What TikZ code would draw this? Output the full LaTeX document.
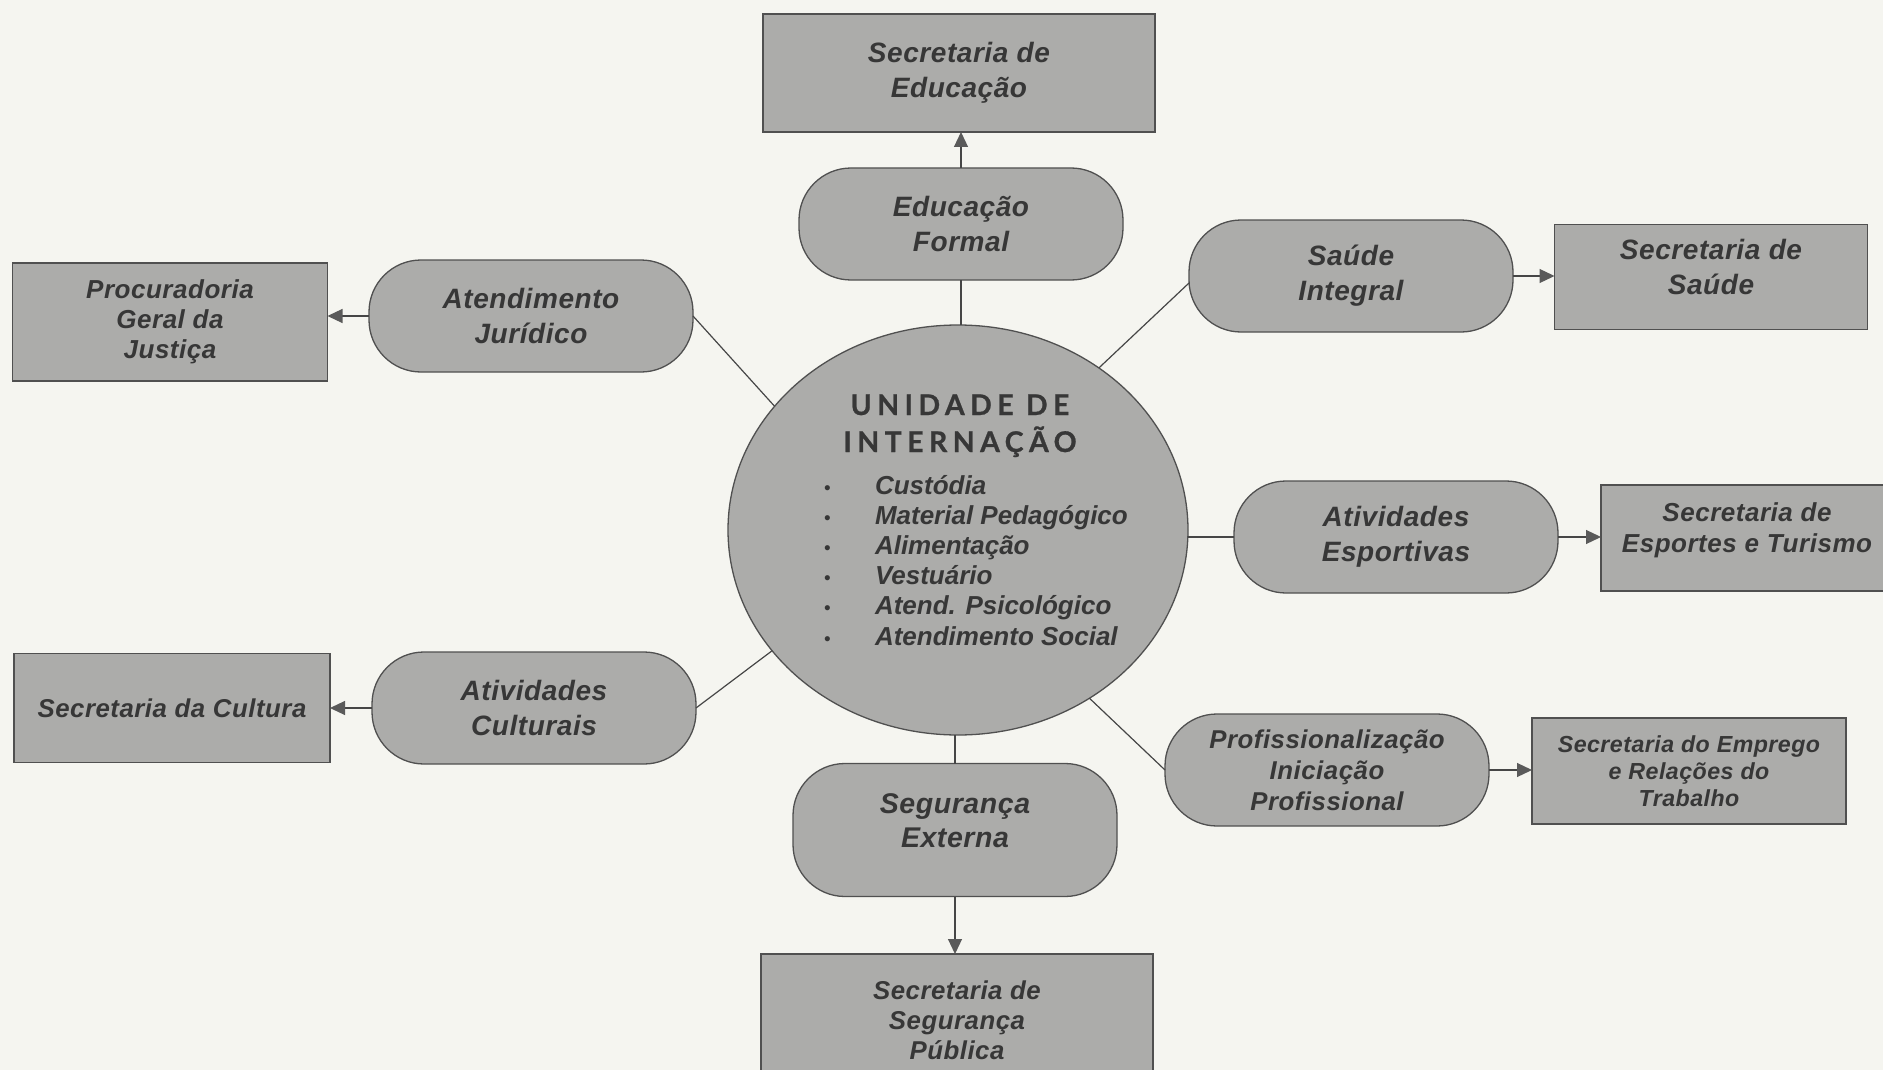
\documentclass[tikz,border=0pt]{standalone}
\usepackage{fontspec}
\setmainfont{Liberation Sans}
\newfontfamily\boxfont[LetterSpace=2]{Liberation Sans}
\newfontfamily\titlefont[LetterSpace=19,FakeBold=0.8]{Lato}
\usetikzlibrary{shapes.geometric,arrows.meta}
\definecolor{bg}{RGB}{245,245,240}
\definecolor{boxfill}{RGB}{172,172,170}
\definecolor{edgec}{RGB}{80,80,80}
\definecolor{txt}{RGB}{55,55,55}
\definecolor{lnk}{RGB}{70,70,70}
\definecolor{tipc}{RGB}{90,90,90}
\newcommand{\bxf}[2]{\boxfont\bfseries\itshape\fontsize{#1}{#2}\selectfont}
\begin{document}
\begin{tikzpicture}[x=1pt,y=-1pt,
  every node/.style={inner sep=0pt,outer sep=0pt},
  secbox/.style={draw=edgec,line width=1.3pt,fill=boxfill,rectangle,align=center,text=txt,
    font=\bxf{28}{35}},
  pill/.style={draw=edgec,line width=1.3pt,fill=boxfill,rectangle,rounded corners=52pt,
    minimum width=324pt,minimum height=112pt,align=center,text=txt,
    font=\bxf{28}{35}},
  item/.style={anchor=base west,text=txt,font=\bfseries\itshape\fontsize{26}{30}\selectfont},
  ttl/.style={anchor=base,text=txt,font=\titlefont\bfseries\fontsize{28.5}{37}\selectfont},
  conn/.style={draw=lnk,line width=1.2pt},
  arr/.style={conn,-{Triangle[length=15pt,width=14pt,color=tipc]}}
]
\useasboundingbox (0,0) rectangle (1883,1070);
\fill[bg] (0,0) rectangle (1883,1070);

% central unit
\node[ellipse,draw=edgec,line width=1.3pt,fill=boxfill,minimum width=460pt,minimum height=410pt] (u) at (958,530) {};
\node[ttl] (t1) at (960,415) {UNIDADE DE};
\node[ttl] (t2) at (960,452) {INTERNAÇÃO};
\foreach \n/\yy/\s in {i1/494/Custódia,i2/524.2/Material Pedagógico,i3/554.4/Alimentação,i4/584.6/Vestuário,i5/614.8/Atend. Psicológico,i6/645/Atendimento Social}{
  \node[item] (\n) at (824,\yy) {\makebox[51pt][l]{\normalfont\fontsize{19}{19}\selectfont\textbullet}\s};
}

% secretariats
\node[secbox,minimum width=392pt,minimum height=118pt] (sece) at (959,73) {Secretaria de\\Educação};
\node[secbox,minimum width=315pt,minimum height=118pt,font=\bxf{26}{30}] (proc) at (170,322) {Procuradoria\\Geral da\\Justiça};
\node[secbox,minimum width=313pt,minimum height=105pt,text depth=20pt] (secs) at (1711,277) {Secretaria de\\Saúde};
\node[secbox,minimum width=292pt,minimum height=106pt,text depth=20pt,font=\bxf{26}{31}] (sesp) at (1747,538) {Secretaria de\\Esportes e Turismo};
\node[secbox,minimum width=314pt,minimum height=106pt,font=\bxf{23.2}{27}] (semp) at (1689,771) {Secretaria do Emprego\\e Relações do\\Trabalho};
\node[secbox,minimum width=392pt,minimum height=132pt,font=\bxf{25.8}{30}] (ssp) at (957,1020) {Secretaria de\\Segurança\\Pública};
\node[secbox,minimum width=316pt,minimum height=109pt,font=\bxf{25.8}{30}] (scul) at (172,708) {Secretaria da Cultura};

% programme pills
\node[pill] (edu) at (961,224) {Educação\\Formal};
\node[pill] (jur) at (531,316) {Atendimento\\Jurídico};
\node[pill] (sau) at (1351,276) {Saúde\\Integral};
\node[pill] (esp) at (1396,537) {Atividades\\Esportivas};
\node[pill] (cul) at (534,708) {Atividades\\Culturais};
\node[pill,font=\bxf{25.8}{31}] (prof) at (1327,770) {Profissionalização\\Iniciação\\Profissional};
\node[pill,minimum height=133pt,text depth=18pt,font=\bxf{28.5}{34}] (seg) at (955,830) {Segurança\\Externa};

% links from the unit
\draw[conn] (edu.south) -- (edu.south |- u.north);
\draw[conn] (u.146) -- (jur.east);
\draw[conn] (u.49) -- ([yshift=-7pt]sau.west);
\draw[conn] (esp.west) -- (esp.west -| u.east);
\draw[conn] (u.213) -- (cul.east);
\draw[conn] (u.308) -- (prof.west);
\draw[conn] (seg.north) -- (seg.north |- u.south);

% arrows to secretariats
\draw[arr] (edu.north) -- (edu.north |- sece.south);
\draw[arr] (jur.west) -- (jur.west -| proc.east);
\draw[arr] (sau.east) -- (sau.east -| secs.west);
\draw[arr] (esp.east) -- (esp.east -| sesp.west);
\draw[arr] (cul.west) -- (cul.west -| scul.east);
\draw[arr] (prof.east) -- (prof.east -| semp.west);
\draw[arr] (seg.south) -- (seg.south |- ssp.north);
\end{tikzpicture}
\end{document}
